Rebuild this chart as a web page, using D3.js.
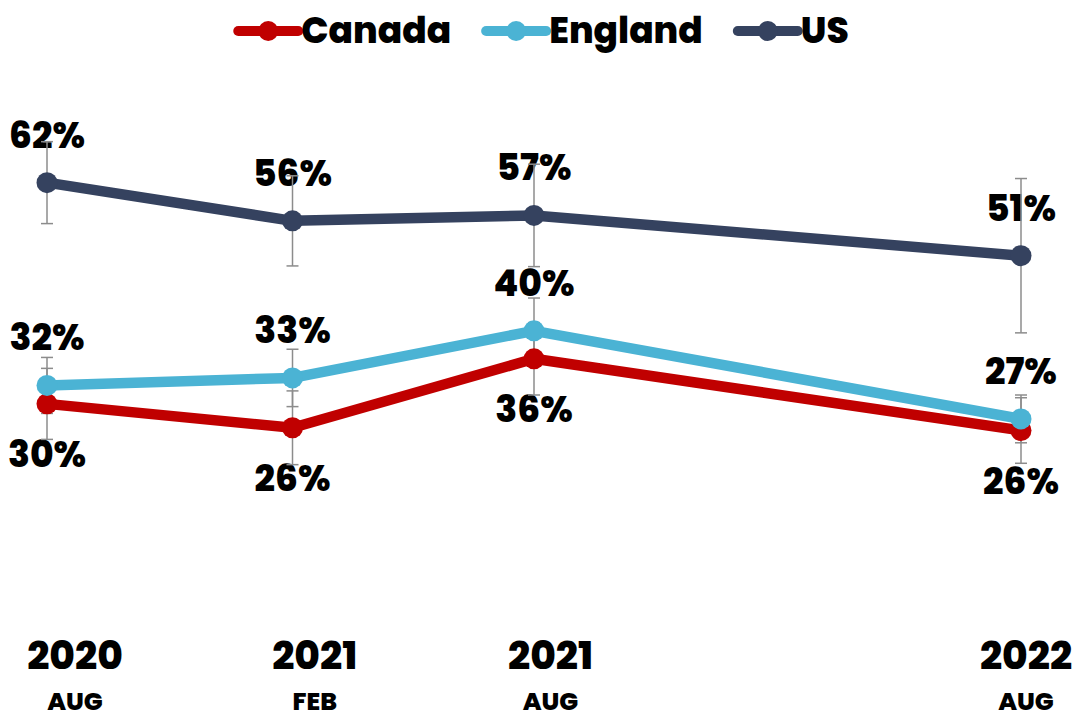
<!DOCTYPE html>
<html>
<head>
<meta charset="utf-8">
<script src="https://cdn.jsdelivr.net/npm/d3@7"></script>
<style>
  body { margin: 0; background: #fff; }
  svg { display: block; font-family: Poppins, Inter, sans-serif; font-weight: 800; }
</style>
</head>
<body>
<div id="viz"></div>
<script>
// survey waves
var waves = ["2020-08", "2021-02", "2021-08", "2022-08"];
var yearLabels = ["2020", "2021", "2021", "2022"];
var monthLabels = ["AUG", "FEB", "AUG", "AUG"];

// values (percent)
var canada = [29.6, 26.1, 36.2, 25.7];
var england = [32.3, 33.4, 40.3, 27.4];
var us = [62.0, 56.4, 57.2, 51.3];

// error bar half widths
var canadaErr = [5.2, 5.4, 5.3, 4.8];
var englandErr = [4.1, 4.2, 4.8, 3.5];
var usErr = [6.0, 6.6, 7.5, 11.3];

var seriesNames = ["Canada", "England", "US"];
var seriesColors = ["#c00000", "#4bb3d4", "#35425f"];

var width = 1081, height = 717;
var parse = d3.timeParse("%Y-%m");
var dates = waves.map(parse);

var xScale = d3.scaleTime().domain(d3.extent(dates)).range([47, 1021]);
// category labels sit a bit to the right of the points
var xLabel = d3.scaleTime().domain(d3.extent(dates)).range([75, 1026]);
var yScale = d3.scaleLinear().domain([0, 70]).range([606, 128]);

var svg = d3.select("#viz").append("svg")
  .attr("width", width)
  .attr("height", height)
  .style("background-color", "#fff");

var series = [
  { name: "Canada", values: canada, err: canadaErr, color: seriesColors[0], labelPos: "below" },
  { name: "England", values: england, err: englandErr, color: seriesColors[1], labelPos: "above" },
  { name: "US", values: us, err: usErr, color: seriesColors[2], labelPos: "above" }
];

var fmt = function (v) { return d3.format(".0f")(v) + "%"; };

// x axis labels
var xg = svg.append("g").attr("class", "xlabels");
xg.selectAll("text.year")
  .data(dates)
  .enter().append("text")
  .attr("class", "year")
  .attr("x", function (d) { return xLabel(d); })
  .attr("y", 669)
  .attr("text-anchor", "middle")
  .style("font-size", "39px")
  .text(function (d, i) { return yearLabels[i]; });

xg.selectAll("text.month")
  .data(dates)
  .enter().append("text")
  .attr("class", "month")
  .attr("x", function (d) { return xLabel(d); })
  .attr("y", 710)
  .attr("text-anchor", "middle")
  .style("font-size", "25px")
  .text(function (d, i) { return monthLabels[i]; });

// data labels
series.forEach(function (s) {
  svg.append("g").selectAll("text")
    .data(s.values)
    .enter().append("text")
    .attr("x", function (d, i) { return xScale(dates[i]); })
    .attr("y", function (d) {
      return s.labelPos === "above" ? yScale(d) - 35 : yScale(d) + 63;
    })
    .attr("text-anchor", "middle")
    .style("font-size", "36px")
    .attr("fill", "#000")
    .text(fmt);
});

// error bars
series.forEach(function (s) {
  var g = svg.append("g").attr("class", "err");
  s.values.forEach(function (v, i) {
    var x = xScale(dates[i]);
    var y1 = yScale(v + s.err[i]), y2 = yScale(v - s.err[i]);
    g.append("line").attr("x1", x).attr("x2", x).attr("y1", y1).attr("y2", y2);
    g.append("line").attr("x1", x - 6).attr("x2", x + 6).attr("y1", y1).attr("y2", y1);
    g.append("line").attr("x1", x - 6).attr("x2", x + 6).attr("y1", y2).attr("y2", y2);
  });
  g.selectAll("line").attr("stroke", "#8c8c8c").attr("stroke-width", 1.5);
});

// lines and markers
var line = d3.line()
  .x(function (d, i) { return xScale(dates[i]); })
  .y(function (d) { return yScale(d); });

series.forEach(function (s) {
  svg.append("path")
    .datum(s.values)
    .attr("d", line)
    .attr("fill", "none")
    .attr("stroke", s.color)
    .attr("stroke-width", 10.5)
    .attr("stroke-linejoin", "round");
  svg.append("g").selectAll("circle")
    .data(s.values)
    .enter().append("circle")
    .attr("cx", function (d, i) { return xScale(dates[i]); })
    .attr("cy", function (d) { return yScale(d); })
    .attr("r", 10.5)
    .attr("fill", s.color);
});

// legend
var legend = svg.append("g").attr("class", "legend");
var lx = 0;
series.forEach(function (s) {
  var item = legend.append("g").attr("transform", "translate(" + lx + ",0)");
  item.append("line")
    .attr("x1", 0).attr("x2", 60).attr("y1", 31).attr("y2", 31)
    .attr("stroke", s.color).attr("stroke-width", 10)
    .attr("stroke-linecap", "round");
  item.append("circle").attr("cx", 30).attr("cy", 31).attr("r", 10).attr("fill", s.color);
  var t = item.append("text")
    .attr("x", 63).attr("y", 43)
    .style("font-size", "36px")
    .text(s.name);
  lx += 63 + t.node().getComputedTextLength() + 35;
});
var lb = legend.node().getBBox();
legend.attr("transform", "translate(" + (width / 2 - lb.width / 2 - lb.x + 3) + ",0)");
</script>
</body>
</html>
